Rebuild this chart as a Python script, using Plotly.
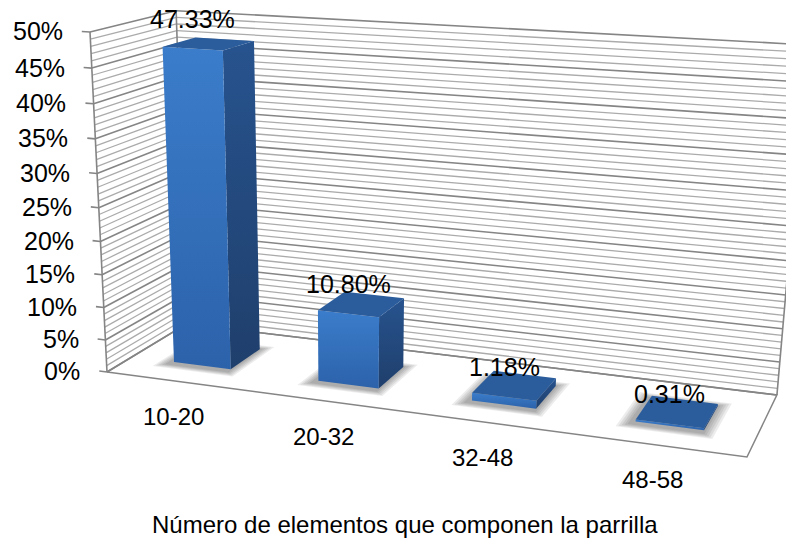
import numpy as np
import plotly.graph_objects as go

# ---- data -------------------------------------------------------------
categories = ["10-20", "20-32", "32-48", "48-58"]
shares = [47.33, 10.80, 1.18, 0.31]          # percent of grids
value_ticks = list(range(0, 51, 5))
tick_labels = [f"{t}%" for t in value_ticks]
minor_ticks = [t for t in range(0, 51) if t % 5]
axis_title = "Número de elementos que componen la parrilla"

# ---- 3-D frame --------------------------------------------------------
# world coordinates: X = category slot (0..4), Y = depth (0 front, 1 back),
# Z = percent (0..50).  The camera matrix maps them to page pixels.
CAMERA = np.array([
    [137.34, 96.42, -0.4569, 107.0],
    [7.40, -18.94, -6.842, 372.0],
    [-0.030325, 0.0902, -0.001299, 1.0],
])
N_CAT = len(categories)
Z_MAX = value_ticks[-1]
BAR_LO, BAR_HI = 0.3, 0.7   # bar footprint inside its slot / depth

FONT = "Liberation Sans, Arial, sans-serif"
MAJOR = "#858585"
MINOR = "#ababab"


def project(X, Y, Z):
    X, Y, Z = np.broadcast_arrays(np.asarray(X, float), np.asarray(Y, float),
                                  np.asarray(Z, float))
    h = CAMERA @ np.vstack([X.ravel(), Y.ravel(), Z.ravel(), np.ones(X.size)])
    return h[0] / h[2], h[1] / h[2]


def segments(pairs):
    xs, ys = [], []
    for a, b in pairs:
        px, py = project(*zip(a, b))
        xs += [px[0], px[1], None]
        ys += [py[0], py[1], None]
    return xs, ys


def polygon(pts):
    px, py = project(*zip(*pts))
    return list(px) + [px[0]], list(py) + [py[0]]


fig = go.Figure()


def add_lines(pairs, color, width):
    xs, ys = segments(pairs)
    fig.add_trace(go.Scatter(x=xs, y=ys, mode="lines",
                             line=dict(color=color, width=width),
                             hoverinfo="skip"))


def add_poly(pts, color, line_color=None, width=0, gradient=None):
    xs, ys = polygon(pts)
    kw = {}
    if gradient is not None:
        kw["fillgradient"] = gradient
    fig.add_trace(go.Scatter(x=xs, y=ys, mode="lines", fill="toself",
                             fillcolor=color,
                             line=dict(color=line_color or color, width=width),
                             hoverinfo="skip", **kw))


# floor
add_poly([(0, 0, 0), (N_CAT, 0, 0), (N_CAT, 1, 0), (0, 1, 0)], "white",
         line_color=MAJOR, width=1.5)

# gridlines on back wall and side wall (minor every 1 %, major every 5 %)
add_lines([((0, 1, z), (N_CAT, 1, z)) for z in minor_ticks] +
          [((0, 0, z), (0, 1, z)) for z in minor_ticks], MINOR, 1.3)
add_lines([((0, 1, z), (N_CAT, 1, z)) for z in value_ticks] +
          [((0, 0, z), (0, 1, z)) for z in value_ticks] +
          [((0, 1, 0), (0, 1, Z_MAX)), ((N_CAT, 1, 0), (N_CAT, 1, Z_MAX))],
          MAJOR, 1.6)

# value axis line and ticks
add_lines([((0, 0, 0), (0, 0, Z_MAX))] +
          [((-0.055, 0, z), (0, 0, z)) for z in value_ticks], MAJOR, 1.6)

# soft shadows under the columns, nudged towards the viewer
for i, v in enumerate(shares):
    for k in range(5):
        e = 0.014 * (k + 1)
        add_poly([(i + BAR_LO - e - 0.02, BAR_LO - 0.04 - e, 0),
                  (i + BAR_HI + e, BAR_LO - 0.04 - e, 0),
                  (i + BAR_HI + e, BAR_HI + e, 0),
                  (i + BAR_LO - e - 0.02, BAR_HI + e, 0)],
                 "rgba(0,0,0,0.075)")

# columns
for i, v in enumerate(shares):
    x0, x1 = i + BAR_LO, i + BAR_HI
    y0, y1 = BAR_LO, BAR_HI
    side = [(x1, y0, 0), (x1, y1, 0), (x1, y1, v), (x1, y0, v)]
    front = [(x0, y0, 0), (x1, y0, 0), (x1, y0, v), (x0, y0, v)]
    top = [(x0, y0, v), (x1, y0, v), (x1, y1, v), (x0, y1, v)]
    _, sy = polygon(side)
    add_poly(side, "#23497c", gradient=dict(
        type="vertical", start=min(sy), stop=max(sy),
        colorscale=[[0, "#27538e"], [1, "#1f3f6c"]]))
    _, fy = polygon(front)
    add_poly(front, "#3370bb", gradient=dict(
        type="vertical", start=min(fy), stop=max(fy),
        colorscale=[[0, "#3b7dcb"], [1, "#2c62aa"]]))
    add_poly(top, "#2b5d9d")

annotations = []

# value labels above the columns
for i, v in enumerate(shares):
    px, py = project(i + 0.5, BAR_LO, v)
    annotations.append(dict(x=px[0], y=py[0] - 30, text=f"{v:.2f}%",
                            showarrow=False, xanchor="center", yanchor="middle",
                            font=dict(family=FONT, size=25, color="black")))

# value axis labels
for z, lab in zip(value_ticks, tick_labels):
    px, py = project(-0.055, 0, z)
    annotations.append(dict(x=px[0] - 17, y=py[0], text=lab, showarrow=False,
                            xanchor="right", yanchor="middle",
                            font=dict(family=FONT, size=25, color="black")))

# category labels below the front edge
ex, ey = project([0, N_CAT], [0, 0], [0, 0])
dx, dy = ex[1] - ex[0], ey[1] - ey[0]
n = np.array([-dy, dx]) / np.hypot(dx, dy)
for i, cat in enumerate(categories):
    px, py = project(i + 0.5, 0, 0)
    annotations.append(dict(x=px[0] + 35 * n[0], y=py[0] + 35 * n[1], text=cat,
                            showarrow=False, xanchor="center", yanchor="middle",
                            font=dict(family=FONT, size=24, color="black")))

annotations.append(dict(x=405, y=524, text=axis_title, showarrow=False,
                        xanchor="center", yanchor="middle",
                        font=dict(family=FONT, size=24, color="black")))

fig.update_layout(
    width=786, height=544, margin=dict(l=0, r=0, t=0, b=0),
    paper_bgcolor="white", plot_bgcolor="white", showlegend=False,
    xaxis=dict(range=[0, 786], visible=False, fixedrange=True),
    yaxis=dict(range=[544, 0], visible=False, fixedrange=True),
    annotations=annotations,
)

fig.write_html("out.html", config={"displayModeBar": False})
